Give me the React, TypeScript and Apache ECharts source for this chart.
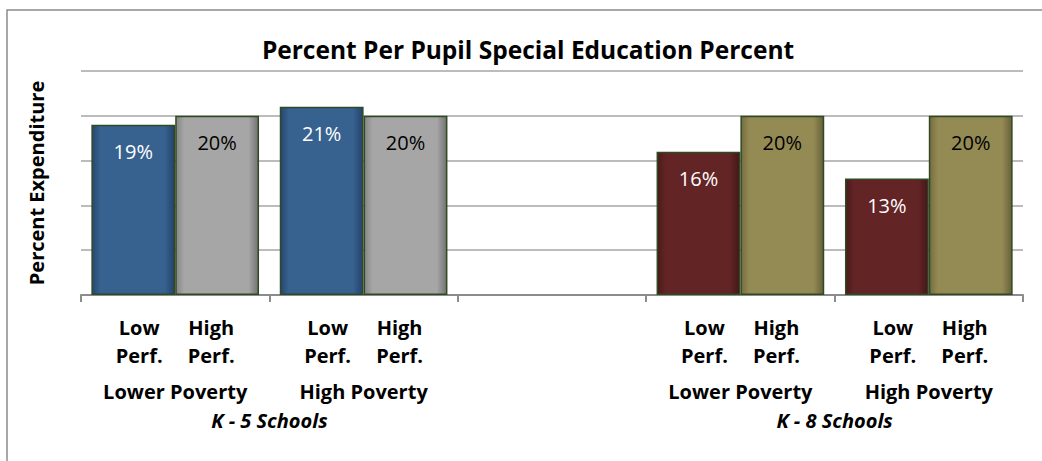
import React, { useEffect, useRef } from 'react';
import * as echarts from 'echarts';

const title = 'Percent Per Pupil Special Education Percent';
const yAxisName = 'Percent Expenditure';
const categories = ['Lower Poverty', 'High Poverty', '', 'Lower Poverty', 'High Poverty'];
const perfTop = ['Low', 'High'];
const perfBottom = ['Perf.', 'Perf.'];
const schoolGroups = ['', 'K - 5 Schools', '', '', 'K - 8 Schools', ''];
const lowPerf: (number | null)[] = [19, 21, null, 16, 13];
const highPerf: (number | null)[] = [20, 20, null, 20, 20];
const yMin = 0;
const yMax = 25;
const yStep = 5;

const FONT = '"Open Sans", "Noto Sans", sans-serif';

const lowColors = [
  ['#264671', '#37628f', '#24426a'],
  ['#264671', '#37628f', '#24426a'],
  null,
  ['#4a1a1c', '#632426', '#451719'],
  ['#4a1a1c', '#632426', '#451719'],
];
const highColors = [
  ['#858585', '#a6a6a6', '#727272'],
  ['#858585', '#a6a6a6', '#727272'],
  null,
  ['#756d40', '#948a54', '#676039'],
  ['#756d40', '#948a54', '#676039'],
];
const lowLabelColor = ['#ffffff', '#ffffff', '#ffffff', '#ffffff', '#ffffff'];
const highLabelColor = ['#000000', '#000000', '#000000', '#000000', '#000000'];

function grad(c: string[]) {
  return {
    type: 'linear',
    x: 0,
    y: 0,
    x2: 1,
    y2: 0,
    colorStops: [
      { offset: 0, color: c[0] },
      { offset: 0.1, color: c[1] },
      { offset: 0.88, color: c[1] },
      { offset: 1, color: c[2] },
    ],
  };
}

function buildData(vals: (number | null)[], colors: (string[] | null)[], labelColors: string[]) {
  return vals.map((v, i) =>
    v == null || colors[i] == null
      ? null
      : {
          value: v,
          itemStyle: { color: grad(colors[i] as string[]) },
          label: { color: labelColors[i] },
        }
  );
}

export default function App() {
  const ref = useRef<HTMLDivElement>(null);
  useEffect(() => {
    if (!ref.current) return;
    const chart = echarts.init(ref.current, undefined, { renderer: 'svg' });
    const labelCommon = {
      show: true,
      position: 'insideTop',
      distance: 17,
      fontSize: 20,
      fontFamily: FONT,
      formatter: '{c}%',
    };
    const richTok = {
      width: 72,
      align: 'center',
      fontFamily: FONT,
      fontWeight: 'bold',
      fontSize: 20,
      lineHeight: 28,
      color: '#000',
    };
    chart.setOption({
      animation: false,
      backgroundColor: '#ffffff',
      graphic: [
        {
          type: 'rect',
          shape: { x: 7, y: 10, width: 2000, height: 1000 },
          style: { fill: 'none', stroke: '#8c8c8c', lineWidth: 1.5 },
          silent: true,
        },
        {
          type: 'text',
          x: 528,
          y: 49,
          style: {
            text: title,
            align: 'center',
            verticalAlign: 'middle',
            fontFamily: FONT,
            fontWeight: 'bold',
            fontSize: 24.5,
            fill: '#000',
          },
        },
      ],
      grid: { left: 81, right: 19, top: 71, bottom: 166, containLabel: false },
      xAxis: [
        {
          type: 'category',
          data: categories,
          position: 'bottom',
          axisLine: { lineStyle: { color: '#8c8c8c', width: 2 } },
          axisTick: { show: true, length: 7, lineStyle: { color: '#8c8c8c', width: 2 } },
          axisLabel: {
            interval: 0,
            margin: 18,
            formatter: (v: string) =>
              v
                ? `{a|${perfTop[0]}}{a|${perfTop[1]}}\n{a|${perfBottom[0]}}{a|${perfBottom[1]}}\n{c|${v}}`
                : '',
            rich: {
              a: richTok,
              c: { fontFamily: FONT, fontWeight: 'bold', fontSize: 20, lineHeight: 44, color: '#000' },
            },
          },
        },
        {
          type: 'value',
          min: 0,
          max: schoolGroups.length - 1,
          interval: 1,
          position: 'bottom',
          axisLine: { show: false },
          axisTick: { show: false },
          splitLine: { show: false },
          axisLabel: {
            margin: 111,
            showMinLabel: true,
            showMaxLabel: true,
            formatter: (v: number) => schoolGroups[Math.round(v)] || '',
            fontFamily: FONT,
            fontStyle: 'italic',
            fontWeight: 'bold',
            fontSize: 20,
            lineHeight: 28,
            color: '#000',
          },
        },
      ],
      yAxis: {
        type: 'value',
        min: yMin,
        max: yMax,
        interval: yStep,
        axisLabel: { show: false },
        axisLine: { show: false },
        axisTick: { show: false },
        splitLine: { lineStyle: { color: '#a6a6a6', width: 1.5 } },
        name: yAxisName,
        nameLocation: 'middle',
        nameGap: 35,
        nameTextStyle: { fontFamily: FONT, fontWeight: 'bold', fontSize: 20, color: '#000' },
      },
      series: [
        {
          type: 'bar',
          name: 'Low Perf.',
          xAxisIndex: 0,
          yAxisIndex: 0,
          data: buildData(lowPerf, lowColors, lowLabelColor),
          barGap: '0%',
          barCategoryGap: '11%',
          itemStyle: { borderColor: '#2f4a22', borderWidth: 1.5 },
          label: labelCommon,
        },
        {
          type: 'bar',
          name: 'High Perf.',
          xAxisIndex: 0,
          yAxisIndex: 0,
          data: buildData(highPerf, highColors, highLabelColor),
          barGap: '0%',
          barCategoryGap: '11%',
          itemStyle: { borderColor: '#2f4a22', borderWidth: 1.5 },
          label: labelCommon,
        },
      ],
    });
    return () => chart.dispose();
  }, []);
  return (
    <div
      ref={ref}
      style={{ position: 'fixed', left: 0, top: 0, width: 1042, height: 461, background: '#fff' }}
    />
  );
}
